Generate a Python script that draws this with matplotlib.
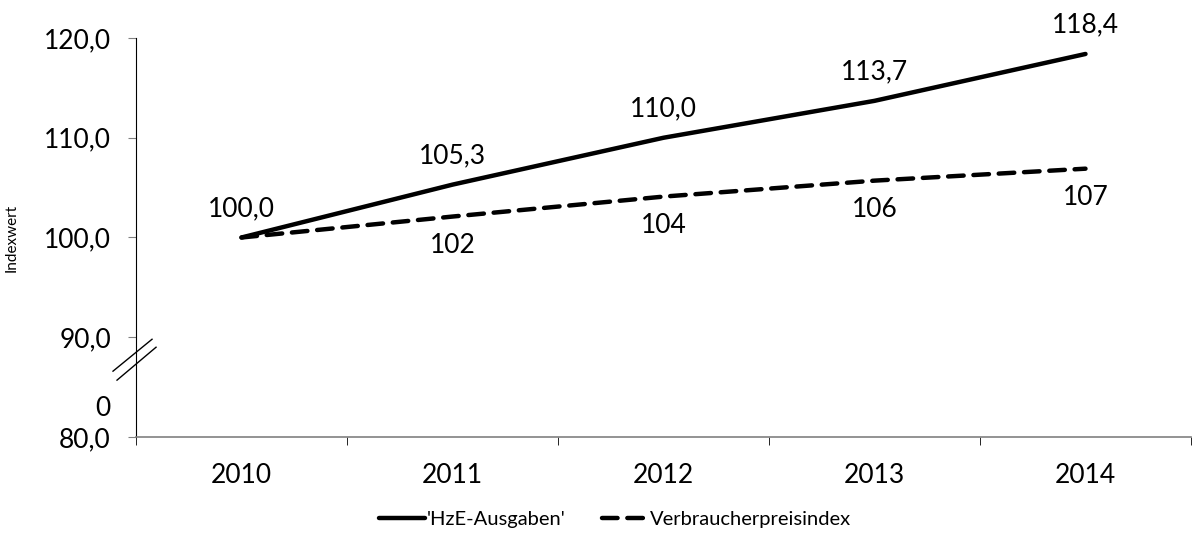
import matplotlib
matplotlib.use("Agg")
import matplotlib.pyplot as plt
from matplotlib.lines import Line2D

years = ["2010", "2011", "2012", "2013", "2014"]
hze = [100.0, 105.3, 110.0, 113.7, 118.4]
vpi = [100.0, 102.1, 104.1, 105.7, 106.9]
hze_labels = ["100,0", "105,3", "110,0", "113,7", "118,4"]
vpi_labels = ["", "102", "104", "106", "107"]
yticks = [80, 90, 100, 110, 120]
ytick_labels = ["80,0", "90,0", "100,0", "110,0", "120,0"]

plt.rcParams['font.family'] = ['Lato', 'DejaVu Sans']

FS = 19
fig = plt.figure(figsize=(11.97, 5.34), dpi=100)
ax = fig.add_axes([136/1197, 1-437/534, (1191-136)/1197, (437-38)/534])

x = list(range(len(years)))
ax.plot(x, hze, color="black", lw=3.2, solid_capstyle="round", label="'HzE-Ausgaben'")
ax.plot(x, vpi, color="black", lw=3.2, dashes=(3.5, 2.2), dash_capstyle="round",
        label="Verbraucherpreisindex")

for xi, v, t in zip(x, hze, hze_labels):
    ax.annotate(t, (xi, v), xytext=(0, 12), textcoords="offset points",
                ha="center", va="bottom", fontsize=FS)
for xi, v, t in zip(x, vpi, vpi_labels):
    if t:
        ax.annotate(t, (xi, v), xytext=(0, -12), textcoords="offset points",
                    ha="center", va="top", fontsize=FS)

ax.set_xlim(-0.5, len(years) - 0.5)
ax.set_ylim(80, 120)
ax.set_yticks(yticks)
ax.set_yticklabels(ytick_labels, fontsize=FS)
ax.tick_params(axis="y", length=6, color="#808080", pad=12)
ax.set_xticks(x)
ax.set_xticklabels(years, fontsize=FS)
ax.tick_params(axis="x", which="major", length=0, pad=19)
ax.set_xticks([i - 0.5 for i in range(len(years) + 1)], minor=True)
ax.tick_params(axis="x", which="minor", length=6, color="black")

for s in ["top", "right"]:
    ax.spines[s].set_visible(False)
ax.spines["bottom"].set_color("#808080")
ax.spines["bottom"].set_linewidth(1.2)
ax.spines["left"].set_color("black")

ax.set_ylabel("Indexwert", fontsize=11)
ax.yaxis.set_label_coords(-0.111, 0.5)

# extra "0" label and axis break marks
ax.text(-0.0245, 82.9, "0", transform=ax.get_yaxis_transform(), ha="right", va="center", fontsize=FS)
ax.add_line(Line2D([-0.0218, 0.0152], [86.6, 89.8], transform=ax.get_yaxis_transform(),
                   color="black", lw=1.0, clip_on=False))
ax.add_line(Line2D([-0.018, 0.019], [85.7, 89.0], transform=ax.get_yaxis_transform(),
                   color="black", lw=1.0, clip_on=False))

ax.legend(loc="center", bbox_to_anchor=((615 - 136) / 1055, -(519 - 437) / 399), ncol=2, frameon=False,
          fontsize=14.5, handlelength=2.3, handletextpad=0.1, columnspacing=1.8, borderpad=0)

fig.savefig("out.png", dpi=100)
